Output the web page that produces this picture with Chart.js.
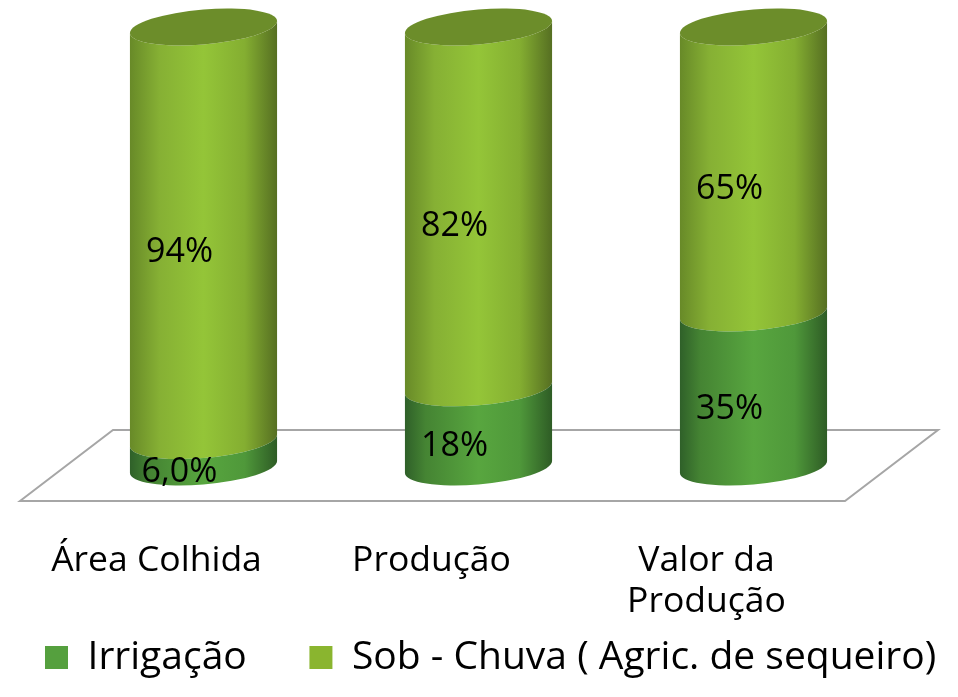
<!DOCTYPE html>
<html><head><meta charset="utf-8">
<style>html,body{margin:0;padding:0;background:#fff}canvas{display:block}</style>
<script src="https://cdn.jsdelivr.net/npm/chart.js@4"></script>
</head><body><canvas id="c" width="958" height="697"></canvas>
<script>
const categories = ["Área Colhida", "Produção", ["Valor da", "Produção"]];
const seriesNames = ["Irrigação", "Sob - Chuva ( Agric. de sequeiro)"];
const irrigacao = [6, 18, 35];
const sequeiro = [94, 82, 65];
const irrigacaoLabels = ["6,0%", "18%", "35%"];
const sequeiroLabels = ["94%", "82%", "65%"];
const FONT = '"Open Sans", sans-serif';

const gradients = [
  [[0,'#2f6029'],[0.14,'#458433'],[0.5,'#58a63f'],[0.78,'#4f983a'],[1,'#2e5c25']],
  [[0,'#688a28'],[0.2,'#86b034'],[0.5,'#94c538'],[0.78,'#84ae31'],[1,'#566f22']]
];
const capColor = '#6c8d2a';
const TILT = 6, RY = 17.5;

const floorPlugin = {
  id: 'floor',
  beforeDatasetsDraw(chart) {
    const {ctx, chartArea: a} = chart;
    ctx.save();
    ctx.strokeStyle = '#a6a6a6';
    ctx.lineWidth = 2;
    ctx.beginPath();
    ctx.moveTo(a.left - 46, a.bottom + 34);
    ctx.lineTo(a.left + 47, a.bottom - 37);
    ctx.lineTo(a.right + 47, a.bottom - 37);
    ctx.lineTo(a.right - 46, a.bottom + 34);
    ctx.closePath();
    ctx.stroke();
    ctx.restore();
  }
};

const cylinderPlugin = {
  id: 'cylinder',
  beforeDatasetDraw(chart, args) {
    const {ctx} = chart;
    const meta = args.meta;
    const stops = gradients[args.index];
    meta.data.forEach(bar => {
      const {x, y, base, width} = bar.getProps(['x','y','base','width']);
      const rx = width / 2;
      ctx.save();
      const g = ctx.createLinearGradient(x - rx, 0, x + rx, 0);
      stops.forEach(s => g.addColorStop(s[0], s[1]));
      ctx.transform(1, -TILT / rx, 0, 1, x, 0);
      ctx.beginPath();
      ctx.moveTo(-rx, y);
      ctx.lineTo(-rx, base);
      ctx.ellipse(0, base, rx, RY, 0, Math.PI, 0, true);
      ctx.lineTo(rx, y);
      ctx.ellipse(0, y, rx, RY, 0, 0, Math.PI, false);
      ctx.closePath();
      ctx.setTransform(1, 0, 0, 1, 0, 0);
      ctx.fillStyle = g;
      ctx.fill();
      if (args.index === 1) {
        ctx.transform(1, -TILT / rx, 0, 1, x, 0);
        ctx.beginPath();
        ctx.ellipse(0, y, rx, RY, 0, 0, Math.PI * 2);
        ctx.setTransform(1, 0, 0, 1, 0, 0);
        ctx.fillStyle = capColor;
        ctx.fill();
      }
      ctx.restore();
    });
    return false;
  },
  afterDatasetsDraw(chart) {
    const {ctx} = chart;
    ctx.save();
    ctx.fillStyle = '#000';
    ctx.font = '34px ' + FONT;
    ctx.textAlign = 'center';
    ctx.textBaseline = 'middle';
    [irrigacaoLabels, sequeiroLabels].forEach((labels, d) => {
      chart.getDatasetMeta(d).data.forEach((bar, i) => {
        const {x, y, base} = bar.getProps(['x','y','base']);
        ctx.fillText(labels[i], x - 24, (y + base) / 2 + 19);
      });
    });
    ctx.restore();
  }
};

new Chart(document.getElementById('c'), {
  type: 'bar',
  data: {
    labels: categories,
    datasets: [
      {label: seriesNames[0], data: irrigacao, backgroundColor: '#55a03e', borderWidth: 0},
      {label: seriesNames[1], data: sequeiro, backgroundColor: '#8ab52f', borderWidth: 0}
    ]
  },
  plugins: [floorPlugin, cylinderPlugin],
  options: {
    responsive: false,
    animation: false,
    layout: {padding: {top: 27, bottom: 10, left: 33}},
    datasets: {bar: {barPercentage: 1, categoryPercentage: 0.535}},
    plugins: {
      tooltip: {enabled: false},
      legend: {
        position: 'bottom',
        align: 'start',
        labels: {
          boxWidth: 23, boxHeight: 23, padding: 12, color: '#000',
          font: {family: FONT, size: 39},
          generateLabels(chart) {
            const items = Chart.defaults.plugins.legend.labels.generateLabels(chart);
            items[0].text = items[0].text + '     ';
            return items;
          }
        }
      }
    },
    scales: {
      x: {
        stacked: true,
        grid: {display: false},
        border: {display: false},
        ticks: {
          autoSkip: false, maxRotation: 0, minRotation: 0, padding: 65, labelOffset: -47, color: '#000',
          font: {family: FONT, size: 35.5, lineHeight: 1.155}
        },
        afterFit(s) { s.height = 159; }
      },
      y: {
        stacked: true, min: 0, max: 100, position: 'left',
        grid: {display: false}, border: {display: false},
        ticks: {display: false},
        afterFit(s) { s.width = 33; }
      },
      yRight: {
        min: 0, max: 100, position: 'right',
        grid: {display: false}, border: {display: false},
        ticks: {display: false},
        afterFit(s) { s.width = 67; }
      }
    }
  }
});
</script></body></html>
